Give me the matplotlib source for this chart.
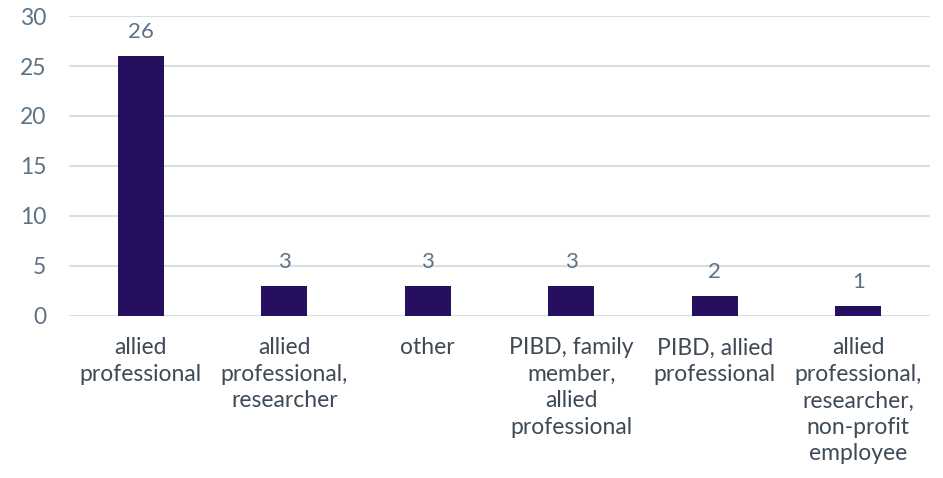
import matplotlib.pyplot as plt

# Chart data
categories = [
    "allied\nprofessional",
    "allied\nprofessional,\nresearcher",
    "other",
    "PIBD, family\nmember,\nallied\nprofessional",
    "PIBD, allied\nprofessional",
    "allied\nprofessional,\nresearcher,\nnon-profit\nemployee",
]
counts = [26, 3, 3, 3, 2, 1]
y_ticks = [0, 5, 10, 15, 20, 25, 30]

bar_color = "#250F5E"
tick_color = "#5E7285"
label_color = "#3E4A56"
grid_color = "#D9DEE3"

plt.rcParams["font.family"] = ["Lato", "DejaVu Sans"]

fig = plt.figure(figsize=(9.43, 4.78), dpi=100)
ax = fig.add_axes([0.0732, 0.339, 0.913, 0.6275])

x = range(len(categories))
bars = ax.bar(x, counts, width=0.32, color=bar_color, zorder=3)

# value labels above bars
for rect, v in zip(bars, counts):
    ax.annotate(str(v), (rect.get_x() + rect.get_width() / 2, v),
                xytext=(0, 10), textcoords="offset points",
                ha="center", va="bottom", fontsize=16, color=tick_color)

ax.set_xlim(-0.5, len(categories) - 0.5)
ax.set_ylim(0, 30)
ax.set_yticks(y_ticks)
ax.set_yticklabels([str(t) for t in y_ticks], fontsize=16.5, color=tick_color)
ax.set_xticks(list(x))
ax.set_xticklabels(categories, fontsize=16.5, color=label_color, linespacing=1.32)
ax.tick_params(axis="x", length=0, pad=15.5)
ax.tick_params(axis="y", length=0, pad=16.5)

ax.grid(axis="y", color=grid_color, linewidth=1.5, zorder=0)
for s in ax.spines.values():
    s.set_visible(False)

fig.savefig("out.png", dpi=100)
